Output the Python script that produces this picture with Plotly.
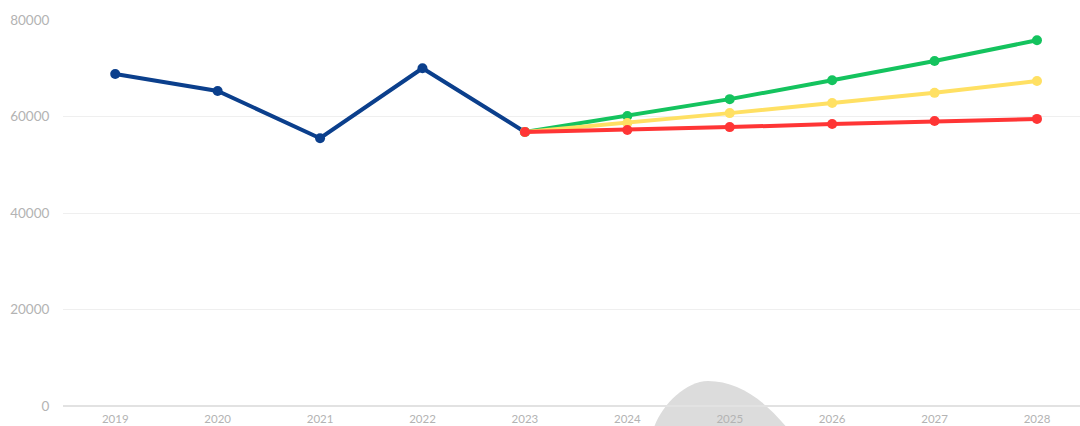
import plotly.graph_objects as go

years_hist = [2019, 2020, 2021, 2022, 2023]
values_hist = [68800, 65300, 55500, 70000, 56800]

years_fc = [2023, 2024, 2025, 2026, 2027, 2028]
values_high = [56800, 60100, 63600, 67500, 71500, 75800]
values_mid = [56800, 58650, 60700, 62800, 64900, 67350]
values_low = [56800, 57200, 57800, 58450, 59050, 59500]

tick_years = [2019, 2020, 2021, 2022, 2023, 2024, 2025, 2026, 2027, 2028]
y_ticks = [0, 20000, 40000, 60000, 80000]

W, H = 1080, 426
ML, MR, MT, MB = 63, 0, 20, 20

fig = go.Figure()

def add_line(x, y, color):
    fig.add_trace(go.Scatter(
        x=x, y=y, mode="lines+markers",
        line=dict(color=color, width=4),
        marker=dict(color=color, size=10),
        hoverinfo="x+y", showlegend=False,
    ))

add_line(years_hist, values_hist, "#0B3F8C")
add_line(years_fc, values_high, "#14C35E")
add_line(years_fc, values_mid, "#FFE063")
add_line(years_fc, values_low, "#FF3535")

# decorative grey blob (background watermark), defined in pixels
def px(x, y):
    return ((x - ML) / (W - ML - MR), (H - MB - y) / (H - MT - MB))

pts = [(652, 445), (648, 420), (680, 381), (708, 381), (742, 381), (772, 405), (800, 445)]
p = [px(*q) for q in pts]
path = (f"M {p[0][0]},{p[0][1]} C {p[1][0]},{p[1][1]} {p[2][0]},{p[2][1]} {p[3][0]},{p[3][1]} "
        f"C {p[4][0]},{p[4][1]} {p[5][0]},{p[5][1]} {p[6][0]},{p[6][1]} Z")
fig.add_shape(type="path", path=path, xref="paper", yref="paper",
              fillcolor="#DCDCDC", line=dict(width=0), layer="below")

yfont = dict(family="Lato, 'Open Sans', sans-serif", size=13.5, color="#B3B3B3")
xfont = dict(family="Lato, 'Open Sans', sans-serif", size=11.5, color="#B3B3B3")

fig.update_layout(
    width=W, height=H,
    margin=dict(l=ML, r=MR, t=MT, b=MB, pad=0),
    paper_bgcolor="white", plot_bgcolor="rgba(0,0,0,0)",
    showlegend=False,
    xaxis=dict(
        range=[2018.49, 2028.42], tickvals=tick_years,
        ticktext=[str(t) for t in tick_years],
        showgrid=False, zeroline=False, showline=False,
        tickfont=xfont, ticks="outside", ticklen=2, tickcolor="rgba(0,0,0,0)",
        fixedrange=True,
    ),
    yaxis=dict(
        range=[0, 80000], tickvals=y_ticks,
        showgrid=True, gridcolor="#EFEFEF", gridwidth=1,
        zeroline=True, zerolinecolor="#E2E2E2", zerolinewidth=2,
        tickfont=yfont, ticks="outside", ticklen=10, tickcolor="rgba(0,0,0,0)",
        tickformat="d", showline=False, fixedrange=True,
    ),
)

fig.write_html("out.html", config={"displayModeBar": False},
               post_script="document.body.style.margin='0';document.body.style.overflow='hidden';")
